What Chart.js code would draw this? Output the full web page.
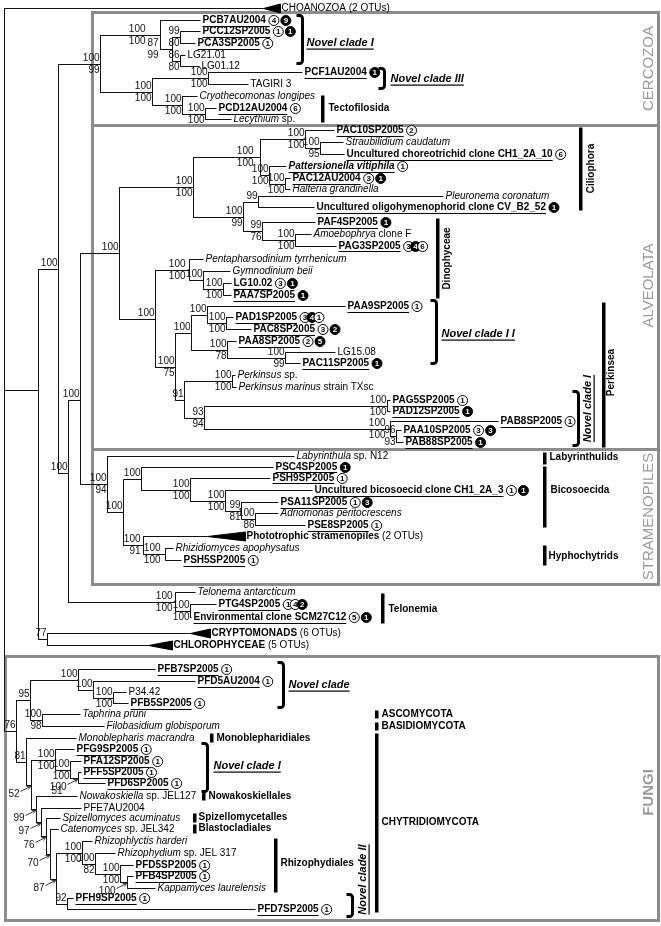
<!DOCTYPE html>
<html>
<head>
<meta charset="utf-8">
<script src="https://cdn.jsdelivr.net/npm/chart.js"></script>
<style>
  html, body { margin: 0; padding: 0; background: #fff; }
  canvas { display: block; }
</style>
</head>
<body>
<canvas id="treeChart" width="661" height="926"></canvas>
<script>
// Tip labels: ~x~ bold underlined, *x* italic, ^x^ bold
const tipLabels = [
  '~PCB7AU2004~', '~PCC12SP2005~', '~PCA3SP2005~', 'LG21.01', 'LG01.12',
  '~PCF1AU2004~', 'TAGIRI 3', '*Cryothecomonas longipes*', '~PCD12AU2004~', '*Lecythium* sp.',
  '~PAC10SP2005~', '*Straubilidium caudatum*', '~Uncultured choreotrichid clone CH1_2A_10~',
  '~*Pattersionella vitiphila*~', '~PAC12AU2004~', '*Halteria grandinella*', '*Pleuronema coronatum*',
  '~Uncultured oligohymenophorid clone CV_B2_52~', '~PAF4SP2005~', '*Amoebophrya* clone F', '~PAG3SP2005~',
  '*Pentapharsodinium tyrrhenicum*', '*Gymnodinium beii*', '~LG10.02~', '~PAA7SP2005~', '~PAA9SP2005~',
  '~PAD1SP2005~', '~PAC8SP2005~', '~PAA8SP2005~', 'LG15.08', '~PAC11SP2005~', '*Perkinsus* sp.',
  '*Perkinsus marinus* strain TXsc', '~PAG5SP2005~', '~PAD12SP2005~', '~PAB8SP2005~', '~PAA10SP2005~', '~PAB88SP2005~',
  '*Labyrinthula* sp. N12', '~PSC4SP2005~', '~PSH9SP2005~', '~Uncultured bicosoecid clone CH1_2A_3~',
  '~PSA11SP2005~', '*Adriomonas peritocrescens*', '~PSE8SP2005~', '^Phototrophic stramenopiles^ (2 OTUs)',
  '*Rhizidiomyces apophysatus*', '~PSH5SP2005~',
  '*Telonema antarcticum*', '~PTG4SP2005~', '~Environmental clone SCM27C12~',
  '^CRYPTOMONADS^ (6 OTUs)', '^CHLOROPHYCEAE^ (5 OTUs)', 'CHOANOZOA (2 OTUs)',
  '~PFB7SP2005~', '~PFD5AU2004~', 'P34.42', '~PFB5SP2005~', '*Taphrina pruni*', '*Filobasidium globisporum*',
  '*Monoblepharis macrandra*', '~PFG9SP2005~', '~PFA12SP2005~', '~PFF5SP2005~', '~PFD6SP2005~',
  '*Nowakoskiella* sp. JEL127', 'PFE7AU2004', '*Spizellomyces acuminatus*', '*Catenomyces* sp. JEL342',
  '*Rhizophlyctis harderi*', '*Rhizophydium* sp. JEL 317', '~PFD5SP2005~', '~PFB4SP2005~',
  '*Kappamyces laurelensis*', '~PFH9SP2005~', '~PFD7SP2005~'
];

// vertical row of each tip
const tipY = [
  20, 31, 43, 55, 66, 72, 84, 96, 108, 119,
  130, 142, 154, 166, 178, 189, 196, 207, 222, 234, 246, 259, 271, 283, 295, 306, 317, 329,
  341, 352, 363, 375, 387, 400, 411, 421, 430, 442,
  456, 467, 478, 490, 502, 513, 525, 536, 548, 560,
  592, 604, 617, 633, 645, 8,
  669, 681, 692, 703, 714, 726, 738, 749, 761, 772, 783, 796, 808, 818, 829, 841, 853, 865, 876, 888, 898, 909
];

// tip depth (end of the terminal branch)
const tipX = [
  200, 200, 195, 185, 199, 302, 248, 197, 216, 231,
  334, 343, 344, 286, 290, 290, 443, 314, 315, 311, 336, 203, 230, 231, 231, 345, 233, 251,
  236, 335, 300, 235, 236, 390, 390, 498, 401, 403,
  294, 273, 270, 312, 278, 278, 305, 207, 173, 181,
  195, 216, 191, 190, 148, 263,
  155, 195, 126, 128, 80, 104, 76, 74, 81, 81, 105, 77, 81, 60, 58, 92, 115, 133, 133, 155, 73, 255
];

// sequence counts: o = open circle, f = filled circle, '+' = overlapping
const tipCounts = [
  'o4 f9', 'o1 f1', 'o1', '', '', 'f1', '', '', 'o6', '',
  'o2', '', 'o6', 'o1', 'o3 f1', '', '', 'f1', 'f1', '', 'o3+f4+o6', '', '', 'o3 f1', 'f1', 'o1', 'o3+f4+o1', 'o3 f2',
  'o2 f5', '', 'f1', '', '', 'o1', 'f1', 'o1', 'o3 f3', 'f1',
  '', 'f1', 'o1', 'o1 f1', 'o1 f3', '', 'o1', '', '', 'o1',
  '', 'o1+o4+f2', 'o5 f1', '', '', '',
  'o1', 'o1', '', 'o1', '', '', '', 'o1', 'o1', 'o1', 'o1', '', '', '', '', '', '', 'o1', 'o1', '', 'o1', 'o1'
];

// collapsed clades: tip index -> end of the triangle
const collapsedTips = [45, 51, 52, 53];
const collapsedEnd = [245, 210, 172, 280];

// support on a terminal branch
const tipSupportIdx = [65];
const tipSupportVal = ['51'];

// topology (newick): tips = index, internal = support[<label shift][@row]:depth, '>' = arrowed value
const cercozoa = '((0,((1,2)99/80:180,(3,4)86/80:180)87/99<13:172)100/100<14:160,((5,6)100/100:208,(7,(8,9)100/100:205)100/100:182)100/100:152)100/99:100';
const ciliates = '(((10,(11,12)100/95:320)100/100:305,(13,(14,15)100/100:285)100/100:269)100/100<6:260,((16,17)99:258,(18,(19,20)100/100:295)99/76:262)100/99:243)100/100:193';
const dinoPerkinsus = '((21,(22,(23,24)100/100:223)100:203)100/100<3:189,(((25,(26,27)100/100:226)100:207,(28,(29,30)100/99:285)100/78:227)100:191,((31,32)100/100:232,((33,34)100/100:387,(35,(36,37)96/93:396)100/100<4:390)93/94:204)91:184)100/75:175)100:155';
const stramenopiles = '(38,((39,(40,(41,(42,(43,44)100/86:255)99/81:241)100/100:225)100/100:190)100:141,(45,(46,47)100/100<4:165)100/91<2:143)100:123)100/94:107';
const telonemia = '(48,(49,50)100/100:190)100/100<2:175';
const dikarya = '((54,(55,(56,57)100/100:113)100:93)100:78,(58,59)100/98:42)95:30';
const chytrids = '(60,((61,(62,(63,64)>100:78)100/100:70)100/100:55,(65,(66,(67,(68,((69,(70,(71,(72,73)>100:127)100/100:120)100/82:95)100/100:82,(74,75)92:67)>87:56)>70:50)>76:46)>97:41)>99:36)>52:31)81:26';

const alveolata = '(' + ciliates + ',' + dinoPerkinsus + ')100:119';
const bikonts = '((' + cercozoa + ',((' + alveolata + ',' + stramenopiles + ')100@400:80,' + telonemia + ')100@473:68)100:58,(51,52)77:47)@390:38';
const treeNewick = '(53,' + bikonts + ',(' + dikarya + ',' + chytrids + ')76:16):4';

const FONT = '"Liberation Sans", Arial, sans-serif';

function parseNewick(s) {
  let i = 0;
  function node() {
    const n = { kids: [] };
    if (s[i] === '(') {
      i++;
      n.kids.push(node());
      while (s[i] === ',') { i++; n.kids.push(node()); }
      i++;
    }
    let lab = '';
    while (i < s.length && !',):'.includes(s[i])) lab += s[i++];
    if (s[i] === ':') {
      i++;
      let d = '';
      while (i < s.length && !',)'.includes(s[i])) d += s[i++];
      n.x = +d;
    }
    if (n.kids.length) {
      const m = lab.match(/^([^<@]*)(?:<(\d+))?(?:@(\d+))?$/);
      n.support = m[1];
      n.shift = m[2] ? +m[2] : 0;
      if (m[3]) n.row = +m[3];
    } else {
      n.tip = +lab;
      n.x = tipX[n.tip];
      n.y = tipY[n.tip];
    }
    return n;
  }
  return node();
}

function layout(n) {
  if (!n.kids.length) return;
  n.kids.forEach(layout);
  n.y = n.row !== undefined ? n.row : Math.round((n.kids[0].y + n.kids[n.kids.length - 1].y) / 2);
}

const root = parseNewick(treeNewick);
layout(root);

const allNodes = [];
(function walk(n) { allNodes.push(n); n.kids.forEach(walk); })(root);

// branch segments, separated by gaps
const branchPts = [];
allNodes.forEach(n => {
  if (!n.kids.length) return;
  const first = n.kids[0], last = n.kids[n.kids.length - 1];
  branchPts.push({ x: n.x, y: first.y }, { x: n.x, y: last.y }, { x: null, y: null });
  n.kids.forEach(k => {
    branchPts.push({ x: n.x, y: k.y }, { x: k.x, y: k.y }, { x: null, y: null });
  });
});

const datasets = [{
  data: branchPts,
  showLine: true,
  borderColor: '#111',
  borderWidth: 1,
  pointRadius: 0,
  spanGaps: false
}];

// collapsed clades as filled wedges
collapsedTips.forEach((t, i) => {
  datasets.push({
    data: [
      { x: tipX[t], y: tipY[t] },
      { x: collapsedEnd[i], y: tipY[t] - 4.5 },
      { x: collapsedEnd[i], y: tipY[t] + 4.5 },
      { x: tipX[t], y: tipY[t] }
    ],
    showLine: true,
    fill: 'shape',
    backgroundColor: '#000',
    borderColor: '#000',
    borderWidth: 1,
    pointRadius: 0
  });
});

// decoration layout
const groupBoxes = [[92, 12, 658, 125], [92, 125, 658, 449], [92, 449, 658, 584], [5, 656, 658, 920]];
const groupNames = [['CERCOZOA', 648, 68, ''], ['ALVEOLATA', 648, 285, ''], ['STRAMENOPILES', 648, 516, ''], ['FUNGI', 648, 792, 'bold ']];
const brackets = [
  [302, 15, 63, 'Novel clade I', 306, 42, 0],
  [384, 68, 88, 'Novel clade III', 390, 78, 0],
  [436, 300, 363, 'Novel clade I I', 441, 333, 0],
  [578, 391, 445, 'Novel clade I', 587, 408, 1],
  [283, 662, 707, 'Novel clade', 288, 684, 0],
  [207, 743, 791, 'Novel clade I', 213, 765, 0],
  [352, 894, 916, 'Novel clade II', 362, 879, 1]
];
const bars = [
  [322, 95, 122, 'Tectofilosida', 328, 108, 0],
  [580, 127, 210, 'Ciliophora', 591, 168, 1],
  [437, 218, 298, 'Dinophyceae', 447, 258, 1],
  [603, 302, 447, 'Perkinsea', 611, 372, 1],
  [544, 452, 464, 'Labyrinthulids', 549, 457, 0],
  [544, 466, 527, 'Bicosoecida', 550, 490, 0],
  [544, 545, 565, 'Hyphochytrids', 548, 556, 0],
  [382, 593, 623, 'Telonemia', 388, 609, 0],
  [376, 710, 718, 'ASCOMYCOTA', 381, 714, 0],
  [376, 722, 730, 'BASIDIOMYCOTA', 381, 726, 0],
  [211, 733, 742, 'Monoblepharidiales', 216, 738, 0],
  [203, 791, 800, 'Nowakoskiellales', 208, 796, 0],
  [194, 813, 822, 'Spizellomycetalles', 198, 817, 0],
  [194, 824, 833, 'Blastocladiales', 198, 828, 0],
  [275, 838, 892, 'Rhizophydiales', 280, 863, 0],
  [376, 733, 912, 'CHYTRIDIOMYCOTA', 381, 822, 0]
];

function richText(ctx, str, px, py, size) {
  let bold = false, ital = false, und = false, buf = '', cx = px;
  const flush = () => {
    if (!buf) return;
    ctx.font = (ital ? 'italic ' : '') + (bold || und ? 'bold ' : '') + size + 'px ' + FONT;
    const w = ctx.measureText(buf).width;
    ctx.fillText(buf, cx, py);
    if (und) ctx.fillRect(cx, Math.round(py + size * 0.5), w, 1);
    cx += w;
    buf = '';
  };
  for (const ch of str) {
    if (ch === '~') { flush(); und = !und; }
    else if (ch === '*') { flush(); ital = !ital; }
    else if (ch === '^') { flush(); bold = !bold; }
    else buf += ch;
  }
  flush();
  return cx;
}

function drawCounts(ctx, spec, cx, py) {
  if (!spec) return;
  const toks = spec.match(/[ +]?[of]\d+/g);
  let pos = cx + 8;
  toks.forEach((t, i) => {
    if (i > 0) pos += t[0] === '+' ? 7 : 12;
    const body = t.replace(/^[ +]/, '');
    const filled = body[0] === 'f';
    ctx.beginPath();
    ctx.arc(pos, py, 5, 0, Math.PI * 2);
    ctx.fillStyle = filled ? '#000' : '#fff';
    ctx.fill();
    ctx.lineWidth = 1;
    ctx.strokeStyle = '#000';
    ctx.stroke();
    ctx.fillStyle = filled ? '#fff' : '#000';
    ctx.font = 'bold 8px ' + FONT;
    ctx.textAlign = 'center';
    ctx.fillText(body.slice(1), pos, py + 0.5);
    ctx.textAlign = 'left';
  });
}

function drawBracket(ctx, x, y0, y1) {
  ctx.beginPath();
  ctx.moveTo(x - 6, y0);
  ctx.arcTo(x, y0, x, y0 + 6, 3);
  ctx.lineTo(x, y1 - 3);
  ctx.arcTo(x, y1, x - 6, y1, 3);
  ctx.lineTo(x - 6, y1);
  ctx.stroke();
}

function labelText(ctx, text, px, py, rotated, font, underline) {
  ctx.save();
  ctx.font = font;
  ctx.translate(px, py);
  if (rotated) { ctx.rotate(-Math.PI / 2); ctx.textAlign = 'center'; }
  else ctx.textAlign = 'left';
  ctx.textBaseline = 'middle';
  ctx.fillText(text, 0, 0);
  if (underline) {
    const w = ctx.measureText(text).width;
    ctx.fillRect(rotated ? -w / 2 : 0, 6, w, 1.2);
  }
  ctx.restore();
}

const treeText = {
  id: 'treeText',
  beforeDatasetsDraw(chart) {
    const { ctx, scales: { x, y } } = chart;
    ctx.save();
    ctx.strokeStyle = '#8c8c8c';
    ctx.lineWidth = 3;
    groupBoxes.forEach(b => {
      const x0 = x.getPixelForValue(b[0]), y0 = y.getPixelForValue(b[1]);
      ctx.strokeRect(x0, y0, x.getPixelForValue(b[2]) - x0, y.getPixelForValue(b[3]) - y0);
    });
    ctx.fillStyle = '#9a9a9a';
    groupNames.forEach(g => {
      labelText(ctx, g[0], x.getPixelForValue(g[1]), y.getPixelForValue(g[2]), true, g[3] + '15px ' + FONT, false);
    });
    ctx.restore();
  },
  afterDatasetsDraw(chart) {
    const { ctx, scales: { x, y } } = chart;
    ctx.save();
    ctx.textBaseline = 'middle';
    ctx.fillStyle = '#000';

    // tip names and counts
    tipLabels.forEach((lab, i) => {
      const ci = collapsedTips.indexOf(i);
      const startX = ci >= 0 ? collapsedEnd[ci] + 1 : tipX[i] + 2;
      ctx.fillStyle = '#000';
      ctx.textAlign = 'left';
      const endX = richText(ctx, lab, x.getPixelForValue(startX), y.getPixelForValue(tipY[i]), 10);
      drawCounts(ctx, tipCounts[i], endX, y.getPixelForValue(tipY[i]));
    });

    // support values
    ctx.fillStyle = '#111';
    ctx.font = '10px ' + FONT;
    allNodes.forEach(n => {
      if (!n.support) return;
      const px = x.getPixelForValue(n.x), py = y.getPixelForValue(n.y);
      if (n.support[0] === '>') {
        ctx.textAlign = 'right';
        ctx.fillText(n.support.slice(1), px - 12, py + 9);
        ctx.strokeStyle = '#111';
        ctx.lineWidth = 0.8;
        ctx.beginPath();
        ctx.moveTo(px - 11, py + 6);
        ctx.lineTo(px - 1, py + 1);
        ctx.moveTo(px - 1, py + 1);
        ctx.lineTo(px - 5, py + 1);
        ctx.moveTo(px - 1, py + 1);
        ctx.lineTo(px - 3, py + 4);
        ctx.stroke();
        return;
      }
      const parts = n.support.split('/');
      const lx = px - 1 - n.shift;
      ctx.textAlign = 'right';
      ctx.fillText(parts[0], lx, py - 6);
      if (parts[1]) ctx.fillText(parts[1], lx, py + 6);
    });
    tipSupportIdx.forEach((t, i) => {
      const parent = allNodes.find(n => n.kids.some(k => k.tip === t));
      ctx.textAlign = 'center';
      ctx.fillText(tipSupportVal[i], x.getPixelForValue((parent.x + tipX[t]) / 2), y.getPixelForValue(tipY[t]) - 5);
    });

    // clade brackets and bars
    ctx.fillStyle = '#000';
    ctx.strokeStyle = '#000';
    ctx.lineWidth = 3;
    brackets.forEach(b => {
      drawBracket(ctx, x.getPixelForValue(b[0]), y.getPixelForValue(b[1]), y.getPixelForValue(b[2]));
      labelText(ctx, b[3], x.getPixelForValue(b[4]), y.getPixelForValue(b[5]), b[6], 'italic bold 11px ' + FONT, true);
    });
    bars.forEach(b => {
      const bx = x.getPixelForValue(b[0]);
      ctx.fillRect(bx - 1.5, y.getPixelForValue(b[1]), 3.5, y.getPixelForValue(b[2]) - y.getPixelForValue(b[1]));
      labelText(ctx, b[3], x.getPixelForValue(b[4]), y.getPixelForValue(b[5]), b[6], 'bold 10px ' + FONT, false);
    });
    ctx.restore();
  }
};

new Chart(document.getElementById('treeChart'), {
  type: 'scatter',
  data: { datasets },
  options: {
    responsive: false,
    animation: false,
    devicePixelRatio: 1,
    layout: { padding: 0 },
    plugins: {
      legend: { display: false },
      tooltip: { enabled: false }
    },
    elements: { line: { tension: 0 } },
    scales: {
      x: { type: 'linear', min: -0.5, max: 660.5, display: false },
      y: { type: 'linear', min: -0.5, max: 925.5, reverse: true, display: false }
    }
  },
  plugins: [treeText]
});
</script>
</body>
</html>
